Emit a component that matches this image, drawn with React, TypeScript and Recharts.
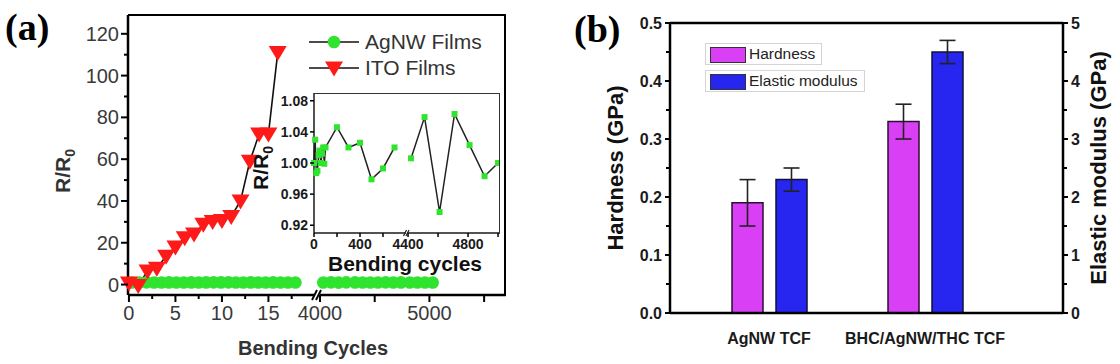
import React from 'react';
import { LineChart, Line, XAxis, YAxis, BarChart, Bar, ErrorBar, Legend, ReferenceLine } from 'recharts';

const SANS = '"Liberation Sans", Arial, sans-serif';
const SERIF = '"Liberation Serif", "Times New Roman", serif';

// (a) main plot, low side of the axis break
const agnwLowCycles = [0.3, 1.1, 1.9, 2.7, 3.5, 4.3, 5.1, 5.9, 6.7, 7.5, 8.3, 9.1, 9.9, 10.7, 11.5, 12.3, 13.1, 13.9, 14.7, 15.5, 16.3, 17.1, 17.9];
const agnwLowValues = [1.0, 0.99, 1.03, 0.99, 1.01, 1.02, 1.0, 1.01, 1.02, 1.0, 1.02, 1.05, 1.02, 1.03, 0.98, 0.99, 1.02, 1.01, 1.0, 1.02, 0.99, 1.01, 1.0];
const itoCycles = [0, 1, 2, 3, 4, 5, 6, 7, 8, 9, 10, 11, 12, 13, 14, 15, 16];
const itoValues = [0.8, -0.5, 6.5, 7.8, 13.6, 18, 22.4, 24.2, 28.8, 30.2, 30.6, 32.6, 40, 59, 72, 72, 111];
// (a) main plot, high side of the break
const agnwHighCycles = [4030, 4100, 4170, 4240, 4320, 4390, 4460, 4530, 4600, 4670, 4740, 4820, 4890, 4960, 5030];
const agnwHighValues = [1.01, 1.06, 0.94, 1.06, 1.02, 0.98, 1.0, 1.01, 1.03, 0.99, 1.02, 1.0, 1.01, 0.99, 1.0];

// (a) inset
const insetLowCycles = [0, 10, 20, 30, 40, 50, 60, 70, 80, 90, 100, 200, 300, 400, 500, 600, 700];
const insetLowValues = [1.0, 1.03, 0.987, 0.99, 1.01, 1.016, 1.0, 1.012, 1.02, 0.999, 1.02, 1.046, 1.02, 1.026, 0.979, 0.993, 1.02];
const insetHighCycles = [4420, 4510, 4610, 4710, 4810, 4910, 5000];
const insetHighValues = [1.006, 1.059, 0.937, 1.063, 1.023, 0.983, 1.0];

// (b)
const films = ['AgNW TCF', 'BHC/AgNW/THC TCF'];
const hardness = [0.19, 0.33];
const hardnessErr = [0.04, 0.03];
const modulus = [2.3, 4.5];
const modulusErr = [0.2, 0.2];

const mainYTicks = [0, 10, 20, 30, 40, 50, 60, 70, 80, 90, 100, 110, 120];
const lowXTicks = [0, 2.5, 5, 7.5, 10, 12.5, 15, 17.5];
const highXTicks = [4000, 4500, 5000, 5500];
const insetYTicks = [0.92, 0.96, 1.0, 1.04, 1.08];
const insetLowXTicks = [0, 200, 400, 600];
const insetHighXTicks = [4400, 4600, 4800, 5000];
const hardnessTicks = [0, 0.05, 0.1, 0.15, 0.2, 0.25, 0.3, 0.35, 0.4, 0.45, 0.5];
const modulusTicks = [0, 0.5, 1, 1.5, 2, 2.5, 3, 3.5, 4, 4.5, 5];

const toPoints = (xs: number[], ys: number[]) => xs.map((cycle, i) => ({ cycle, value: ys[i] }));
const agnwLow = toPoints(agnwLowCycles, agnwLowValues);
const itoPoints = toPoints(itoCycles, itoValues);
const agnwHigh = toPoints(agnwHighCycles, agnwHighValues);
const insetLow = toPoints(insetLowCycles, insetLowValues);
const insetHigh = toPoints(insetHighCycles, insetHighValues);
const filmData = films.map((name, i) => ({
  name,
  hardness: hardness[i],
  hardnessErr: hardnessErr[i],
  modulus: modulus[i],
  modulusErr: modulusErr[i],
}));

type TickOpts = {
  side: 'left' | 'right' | 'bottom';
  isMajor: (v: number) => boolean;
  showLabel: (v: number) => boolean;
  majorLen: number;
  minorLen: number;
  gap: number;
  fontSize: number;
  bold?: boolean;
  color: string;
  strokeWidth: number;
  format: (v: number) => string;
};

const makeTick = (o: TickOpts) => (props: any) => {
  const { x, y, payload } = props;
  const v = payload.value;
  const len = o.isMajor(v) ? o.majorLen : o.minorLen;
  const common = {
    fontSize: o.fontSize,
    fontFamily: SANS,
    fontWeight: o.bold ? 700 : 400,
    fill: o.color,
  };
  const label = o.showLabel(v) ? o.format(v) : '';
  if (o.side === 'bottom') {
    return (
      <g>
        <line x1={x} y1={y} x2={x} y2={y + len} stroke="#000" strokeWidth={o.strokeWidth} />
        <text x={x} y={y + len + o.gap} dy="0.71em" textAnchor="middle" {...common}>{label}</text>
      </g>
    );
  }
  const dir = o.side === 'left' ? -1 : 1;
  return (
    <g>
      <line x1={x} y1={y} x2={x + dir * len} y2={y} stroke="#000" strokeWidth={o.strokeWidth} />
      <text x={x + dir * (len + o.gap)} y={y} dy="0.35em" textAnchor={dir < 0 ? 'end' : 'start'} {...common}>{label}</text>
    </g>
  );
};

const near = (v: number, step: number) => Math.abs(v / step - Math.round(v / step)) < 1e-6;

const mainYTick = makeTick({
  side: 'left', isMajor: (v) => near(v, 20), showLabel: (v) => near(v, 20), majorLen: 7, minorLen: 4,
  gap: 2, fontSize: 20, color: '#3a3a3a', strokeWidth: 2, format: (v) => String(v),
});
const lowXTick = makeTick({
  side: 'bottom', isMajor: (v) => near(v, 5), showLabel: (v) => near(v, 5), majorLen: 7, minorLen: 4,
  gap: 4, fontSize: 20, color: '#3a3a3a', strokeWidth: 2, format: (v) => String(v),
});
const highXTick = makeTick({
  side: 'bottom', isMajor: () => true, showLabel: (v) => near(v, 1000), majorLen: 7, minorLen: 4,
  gap: 4, fontSize: 20, color: '#3a3a3a', strokeWidth: 2, format: (v) => String(v),
});
const insetYTick = makeTick({
  side: 'left', isMajor: () => true, showLabel: () => true, majorLen: 4, minorLen: 2,
  gap: 2, fontSize: 14, bold: true, color: '#1a1a1a', strokeWidth: 1.5, format: (v) => v.toFixed(2),
});
const insetXTick = makeTick({
  side: 'bottom', isMajor: () => true, showLabel: (v) => near(v, 400), majorLen: 4, minorLen: 2,
  gap: 2, fontSize: 14, bold: true, color: '#1a1a1a', strokeWidth: 1.5, format: (v) => String(v),
});
const hardnessTick = makeTick({
  side: 'left', isMajor: (v) => near(v, 0.1), showLabel: (v) => near(v, 0.1), majorLen: 5, minorLen: 4,
  gap: 3, fontSize: 16, bold: true, color: '#1a1a1a', strokeWidth: 2, format: (v) => v.toFixed(1),
});
const modulusTick = makeTick({
  side: 'right', isMajor: (v) => near(v, 1), showLabel: (v) => near(v, 1), majorLen: 5, minorLen: 4,
  gap: 3, fontSize: 16, bold: true, color: '#1a1a1a', strokeWidth: 2, format: (v) => String(v),
});

const filmTick = (props: any) => (
  <text x={props.x} y={props.y + 20} dy="0.71em" textAnchor="middle" fontSize={16} fontWeight={700}
    fontFamily={SANS} fill="#1a1a1a">{props.payload.value}</text>
);

const GREEN = '#2fe32f';
const RED = '#ff1a1a';

const greenCircle = (p: any) =>
  p.cx == null ? <g key={p.index} /> : <circle key={p.index} cx={p.cx} cy={p.cy} r={6.3} fill={GREEN} />;
const redTriangle = (p: any) =>
  p.cx == null ? <g key={p.index} /> : (
    <path key={p.index} d={`M${p.cx - 9},${p.cy - 6.5} L${p.cx + 9},${p.cy - 6.5} L${p.cx},${p.cy + 8.5} Z`} fill={RED} />
  );
const greenSquare = (p: any) =>
  p.cx == null ? <g key={p.index} /> : <rect key={p.index} x={p.cx - 3} y={p.cy - 3} width={6} height={6} fill={GREEN} />;

const legendMarkers: Record<string, (cx: number, cy: number) => React.ReactNode> = {
  'AgNW Films': (cx, cy) => <circle cx={cx} cy={cy} r={6.3} fill={GREEN} />,
  'ITO Films': (cx, cy) => <path d={`M${cx - 9},${cy - 6.5} L${cx + 9},${cy - 6.5} L${cx},${cy + 8.5} Z`} fill={RED} />,
};
const legendOrderA = ['AgNW Films', 'ITO Films'];
const legendOrderB = ['Hardness', 'Elastic modulus'];

const byOrder = (payload: any[], order: string[]) =>
  [...(payload || [])].sort((a, b) => order.indexOf(a.value) - order.indexOf(b.value));

const renderLegendA = (props: any) => (
  <div>
    {byOrder(props.payload, legendOrderA).map((entry: any) => (
      <div key={entry.value} style={{ display: 'flex', alignItems: 'center', height: 26 }}>
        <svg width={52} height={20}>
          <line x1={0} y1={10} x2={50} y2={10} stroke="#111" strokeWidth={1.6} />
          {legendMarkers[entry.value](25, 10)}
        </svg>
        <span style={{ marginLeft: 4, fontFamily: SANS, fontSize: 21, color: '#333' }}>{entry.value}</span>
      </div>
    ))}
  </div>
);

const renderLegendB = (props: any) => (
  <div>
    {byOrder(props.payload, legendOrderB).map((entry: any) => (
      <div key={entry.value} style={{
        position: 'relative', display: 'inline-block', height: 22, marginBottom: 5, border: '1px solid #d4d4d4',
        boxSizing: 'border-box', paddingLeft: 43, paddingRight: 6, whiteSpace: 'nowrap',
      }}>
        <div style={{
          position: 'absolute', left: 4, top: 2.5, width: 36, height: 16, background: entry.color,
          border: '1.5px solid #333', boxSizing: 'border-box',
        }} />
        <span style={{ fontFamily: SANS, fontSize: 15.5, color: '#222', lineHeight: '20px' }}>{entry.value}</span>
      </div>
    ))}
  </div>
);

const axisLine = { stroke: '#000', strokeWidth: 2.5 };
const insetAxisLine = { stroke: '#1a1a1a', strokeWidth: 1.5 };

export default function App() {
  return (
    <div style={{ position: 'absolute', left: 0, top: 0, width: 1120, height: 364, overflow: 'hidden', background: '#fff' }}>
      {/* (a) main, low-cycle side */}
      <div style={{ position: 'absolute', left: 0, top: 0 }}>
        <LineChart width={314} height={364} margin={{ top: 15, right: 0, bottom: 0, left: 0 }}>
          <XAxis type="number" dataKey="cycle" domain={[-0.1, 19.9]} ticks={lowXTicks} interval={0} height={69}
            tickSize={0} tickMargin={0} tickLine={false} axisLine={axisLine} tick={lowXTick} />
          <YAxis type="number" domain={[-5, 129]} ticks={mainYTicks} interval={0} width={128}
            tickSize={0} tickMargin={0} tickLine={false} axisLine={axisLine} tick={mainYTick} />
          <Legend layout="vertical" align="center" verticalAlign="middle" content={renderLegendA}
            wrapperStyle={{ left: 309, top: 29, width: 200, height: 52 }} />
          <Line data={agnwLow} dataKey="value" name="AgNW Films" stroke="#111" strokeWidth={1.3}
            dot={greenCircle} activeDot={false} isAnimationActive={false} />
          <Line data={itoPoints} dataKey="value" name="ITO Films" stroke="#111" strokeWidth={1.6}
            dot={redTriangle} activeDot={false} isAnimationActive={false} />
        </LineChart>
      </div>

      {/* (a) main, high-cycle side */}
      <div style={{ position: 'absolute', left: 290, top: 0 }}>
        <LineChart width={216} height={364} margin={{ top: 15, right: 0, bottom: 0, left: 30 }}>
          <XAxis type="number" dataKey="cycle" domain={[4000, 5700]} ticks={highXTicks} interval={0} height={69}
            tickSize={0} tickMargin={0} tickLine={false} axisLine={axisLine} tick={highXTick} />
          <YAxis hide type="number" domain={[-5, 129]} />
          <Line data={agnwHigh} dataKey="value" name="AgNW Films" stroke="#111" strokeWidth={1.3}
            dot={greenCircle} activeDot={false} isAnimationActive={false} />
        </LineChart>
      </div>

      {/* (a) frame top / right */}
      <div style={{
        position: 'absolute', left: 128, top: 14, width: 378, height: 281, boxSizing: 'border-box',
        borderTop: '2.5px solid #000', borderRight: '2.5px solid #000',
      }} />

      {/* inset, low side */}
      <div style={{ position: 'absolute', left: 274, top: 93 }}>
        <LineChart width={132} height={170} margin={{ top: 0, right: 0, bottom: 0, left: 0 }}>
          <XAxis type="number" dataKey="cycle" domain={[0, 800]} ticks={insetLowXTicks} interval={0} height={30}
            tickSize={0} tickMargin={0} tickLine={false} axisLine={insetAxisLine} tick={insetXTick} />
          <YAxis type="number" domain={[0.91, 1.09]} ticks={insetYTicks} interval={0} width={40}
            tickSize={0} tickMargin={0} tickLine={false} axisLine={insetAxisLine} tick={insetYTick} />
          <Line data={insetLow} dataKey="value" stroke="#222" strokeWidth={1.5}
            dot={greenSquare} activeDot={false} isAnimationActive={false} />
        </LineChart>
      </div>

      {/* inset, high side */}
      <div style={{ position: 'absolute', left: 377, top: 93 }}>
        <LineChart width={123} height={170} margin={{ top: 0, right: 0, bottom: 0, left: 30 }}>
          <XAxis type="number" dataKey="cycle" domain={[4393, 5013]} ticks={insetHighXTicks} interval={0} height={30}
            tickSize={0} tickMargin={0} tickLine={false} axisLine={insetAxisLine} tick={insetXTick} />
          <YAxis hide type="number" domain={[0.91, 1.09]} />
          <Line data={insetHigh} dataKey="value" stroke="#222" strokeWidth={1.5}
            dot={greenSquare} activeDot={false} isAnimationActive={false} />
        </LineChart>
      </div>

      <div style={{
        position: 'absolute', left: 314, top: 93, width: 186, height: 140, boxSizing: 'border-box',
        borderTop: '1.5px solid #333', borderRight: '1.5px solid #333',
      }} />

      {/* (b) */}
      <div style={{ position: 'absolute', left: 560, top: 0 }}>
        <BarChart width={573} height={364} data={filmData} barGap={13}
          margin={{ top: 23, right: 0, bottom: 0, left: 0 }}>
          <XAxis dataKey="name" height={51} padding={{ left: 21, right: 60 }} interval={0}
            tickSize={0} tickMargin={0} tickLine={false} axisLine={axisLine} tick={filmTick} />
          <YAxis yAxisId="left" type="number" domain={[0, 0.5]} ticks={hardnessTicks} interval={0} width={110}
            tickSize={0} tickMargin={0} tickLine={false} axisLine={axisLine} tick={hardnessTick}
            label={{ value: 'Hardness (GPa)', angle: -90, position: 'center', fontSize: 22, fontWeight: 700, fontFamily: SANS, fill: '#111' }} />
          <YAxis yAxisId="right" orientation="right" type="number" domain={[0, 5]} ticks={modulusTicks} interval={0} width={70}
            tickSize={0} tickMargin={0} tickLine={false} axisLine={axisLine} tick={modulusTick}
            label={{ value: 'Elastic modulus (GPa)', angle: -90, position: 'center', fontSize: 22, fontWeight: 700, fontFamily: SANS, fill: '#111' }} />
          <ReferenceLine yAxisId="left" y={0.5} stroke="#000" strokeWidth={2.5} />
          <Legend layout="vertical" align="center" verticalAlign="middle" content={renderLegendB}
            wrapperStyle={{ left: 145, top: 43, width: 200, height: 50 }} />
          <Bar yAxisId="left" dataKey="hardness" name="Hardness" fill="#d93ff4" stroke="#2a1030" strokeWidth={1.5}
            barSize={31} isAnimationActive={false}>
            <ErrorBar dataKey="hardnessErr" width={8} stroke="#222" strokeWidth={1.6} direction="y" />
          </Bar>
          <Bar yAxisId="right" dataKey="modulus" name="Elastic modulus" fill="#2626f0" stroke="#10103a" strokeWidth={1.5}
            barSize={31} isAnimationActive={false}>
            <ErrorBar dataKey="modulusErr" width={8} stroke="#222" strokeWidth={1.6} direction="y" />
          </Bar>
        </BarChart>
      </div>

      {/* panel letters, shared axis titles and break marks */}
      <svg width={1120} height={364} style={{ position: 'absolute', left: 0, top: 0, pointerEvents: 'none' }}>
        <text x={5} y={40} fontFamily={SERIF} fontWeight={700} fontSize={38} fill="#000">(a)</text>
        <text x={574} y={42} fontFamily={SERIF} fontWeight={700} fontSize={38} fill="#000">(b)</text>
        <text transform="translate(70,171) rotate(-90)" textAnchor="middle" fontFamily={SANS} fontWeight={700}
          fontSize={21} fill="#333">R/R<tspan fontSize={14} dy={5}>0</tspan></text>
        <text x={313} y={355} textAnchor="middle" fontFamily={SANS} fontWeight={700} fontSize={20} fill="#333">Bending Cycles</text>
        <text transform="translate(268,168) rotate(-90)" textAnchor="middle" fontFamily={SANS} fontWeight={700}
          fontSize={21} fill="#111">R/R<tspan fontSize={14} dy={5}>0</tspan></text>
        <text x={405} y={271} textAnchor="middle" fontFamily={SANS} fontWeight={700} fontSize={21} fill="#111">Bending cycles</text>
        <line x1={312} y1={300} x2={317} y2={290} stroke="#000" strokeWidth={2} />
        <line x1={316} y1={300} x2={321} y2={290} stroke="#000" strokeWidth={2} />
        <line x1={403.5} y1={236} x2={406.5} y2={230} stroke="#222" strokeWidth={1.2} />
        <line x1={406} y1={236} x2={409} y2={230} stroke="#222" strokeWidth={1.2} />
      </svg>
    </div>
  );
}
